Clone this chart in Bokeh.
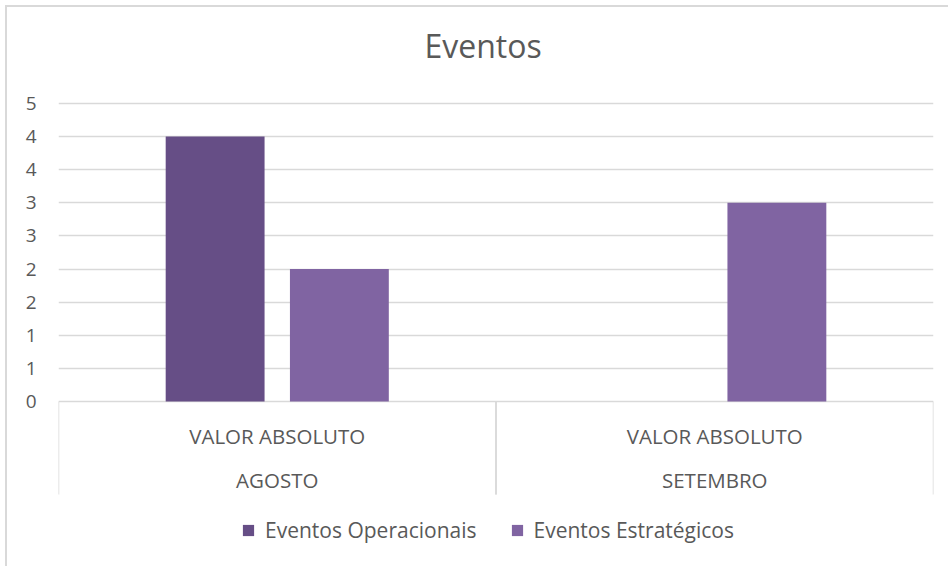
from bokeh.plotting import figure
from bokeh.models import FactorRange, Range1d, FixedTicker, ColumnDataSource, Legend, LegendItem
from bokeh.transform import dodge
from bokeh.core.properties import value
from bokeh.embed import file_html
from bokeh.resources import INLINE

months = ["AGOSTO", "SETEMBRO"]
measure = ["VALOR ABSOLUTO", "VALOR ABSOLUTO"]
series = ["Eventos Operacionais", "Eventos Estratégicos"]
operacionais = [4, 0]
estrategicos = [2, 3]
y_ticks = [0, 0.5, 1, 1.5, 2, 2.5, 3, 3.5, 4, 4.5]
y_labels = ["0", "1", "1", "2", "2", "3", "3", "4", "4", "5"]
colors = ["#664E86", "#8064A2"]

FONT = "Open Sans"
TXT = "#595959"
GRID = "#D9D9D9"
Y_SEP = -1.404
Y_BOTTOM = -2.52
Y_TOP = 4.983

src = ColumnDataSource(dict(month=months, measure=measure,
                            op=operacionais, es=estrategicos))

p = figure(width=943, height=561,
           x_range=FactorRange(factors=months, range_padding=0),
           y_range=Range1d(Y_BOTTOM, Y_TOP),
           output_backend="svg", toolbar_location=None,
           min_border_left=51, min_border_right=17,
           min_border_top=64, min_border_bottom=0,
           title="Eventos")
p.styles = {"margin-left": "5px", "margin-top": "5px",
            "border-top": "2px solid #D9D9D9", "border-left": "2px solid #D9D9D9"}
p.outline_line_color = None
p.background_fill_color = "white"
p.border_fill_color = "white"

# title
p.title.align = "left"
p.title.text_font = FONT
p.title.text_font_size = "32px"
p.title.text_font_style = "normal"
p.title.text_color = TXT
p.title.offset = 366
p.title.standoff = 10

# grid / axes
p.xgrid.visible = False
p.ygrid.ticker = FixedTicker(ticks=y_ticks)
p.ygrid.grid_line_color = GRID
p.ygrid.grid_line_width = 1.5
p.xaxis.visible = False
yax = p.yaxis[0]
yax.ticker = FixedTicker(ticks=y_ticks)
yax.major_label_overrides = {t: l for t, l in zip(y_ticks, y_labels)}
yax.axis_line_color = None
yax.major_tick_line_color = None
yax.minor_tick_line_color = None
yax.major_label_standoff = 16
yax.major_label_text_font = FONT
yax.major_label_text_font_size = "19px"
yax.major_label_text_color = TXT

# bars
r_op = p.vbar(x=dodge("month", -0.142, range=p.x_range), top="op", width=0.226,
              source=src, fill_color=colors[0], line_color=None)
r_es = p.vbar(x=dodge("month", 0.142, range=p.x_range), top="es", width=0.226,
              source=src, fill_color=colors[1], line_color=None)

# category box separators
p.segment(x0=dodge("month", -0.5, range=p.x_range), y0=0,
          x1=dodge("month", -0.5, range=p.x_range), y1=Y_SEP,
          source=src, line_color=GRID, line_width=1.5)
p.segment(x0=dodge("month", 0.5, range=p.x_range), y0=0,
          x1=dodge("month", 0.5, range=p.x_range), y1=Y_SEP,
          source=src, line_color=GRID, line_width=1.5)

# category labels
p.text(x="month", y=0, text="measure", source=src, y_offset=34,
       text_align="center", text_baseline="middle",
       text_font=value(FONT), text_font_size="20.5px", text_color=TXT)
p.text(x="month", y=0, text="month", source=src, y_offset=78,
       text_align="center", text_baseline="middle",
       text_font=value(FONT), text_font_size="20.5px", text_color=TXT)

legend = Legend(items=[LegendItem(label=series[0], renderers=[r_op]),
                       LegendItem(label=series[1], renderers=[r_es])],
                orientation="horizontal", location=(183, 24),
                label_text_font=FONT, label_text_font_size="21px",
                label_text_color=TXT, glyph_width=14, glyph_height=14,
                label_standoff=10, spacing=33, padding=0, margin=0,
                border_line_color=None, background_fill_color=None)
p.add_layout(legend)

open("out.html", "w").write(file_html(p, INLINE))
